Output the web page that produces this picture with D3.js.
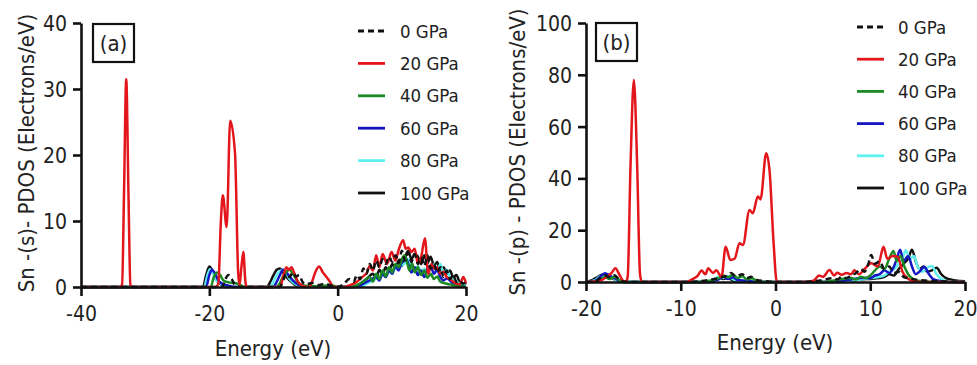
<!DOCTYPE html>
<html>
<head>
<meta charset="utf-8">
<script src="https://cdn.jsdelivr.net/npm/d3@7"></script>
<style>
  body { margin: 0; background: #fff; }
  svg text { font-family: "DejaVu Sans Condensed", "DejaVu Sans", sans-serif; font-stretch: condensed; fill: #222; }
</style>
</head>
<body>
<svg id="chart" width="977" height="365"></svg>
<script>
// legend entries, shared by both panels
const pressures = ["0 GPa", "20 GPa", "40 GPa", "60 GPa", "80 GPa", "100 GPa"];
const colors = ["#111", "#e3161c", "#1b8a22", "#1515c4", "#5ef0ee", "#111"];

// panel (a): Sn s-PDOS, [energy eV, states]
const sA0 = [[-40,0],[-18,0],[-17.5,1.2],[-17,1.8],[-16.5,1.2],[-16,0.3],[-15,0],[-9,0],[-8.5,1],[-8,2],[-7.5,1.5],[-7,2.2],[-6.5,1.6],[-6,1.8],[-5.5,0.8],[-5,0.4],[-4,0.6],[-3,0.3],[-2,0.5],[-1,0.2],[0,0],[1,0.5],[1.8,1.2],[2.5,0.8],[3,1.8],[3.5,1.2],[4,2.8],[4.5,2],[5,3.5],[5.5,2.5],[6,4],[6.5,3],[7,4.2],[7.5,3.5],[8,4.6],[8.5,3.8],[9,4.8],[9.5,3.6],[10,5.5],[10.5,4],[11,5.2],[11.5,3.8],[12,5],[12.5,3.5],[13,4.5],[13.5,3.2],[14,4.8],[14.5,2.8],[15,3.5],[15.5,2.2],[16,3],[16.5,1.5],[17,2.5],[17.5,1.2],[18,1.8],[18.5,0.8],[19,1],[19.5,0.5],[20,0.8]];
const sA20 = [[-40,0],[-34,0],[-33.6,0.3],[-33.3,14],[-32.95,31.5],[-32.6,14],[-32.3,0.3],[-32,0],[-19,0],[-18.6,0.5],[-18.2,10],[-17.9,13.9],[-17.3,9.1],[-16.75,25.2],[-16.0,20.3],[-15.5,2],[-15.3,0.3],[-15.0,3],[-14.7,5.3],[-14.4,1],[-14.2,0],[-9,0],[-8.5,1.5],[-8,3],[-7.6,2.6],[-7.2,3],[-6.8,2.2],[-6.2,0.8],[-5.5,0.2],[-4.5,0],[-4,0.8],[-3.5,2.2],[-2.9,3.1],[-2.3,2.2],[-1.8,1.6],[-1.2,0.8],[-0.7,0],[1,0],[2,0.3],[3,0.8],[3.8,1.5],[4.5,2.1],[5,3.2],[5.5,2.5],[6,4.8],[6.5,3],[7,5],[7.7,3.5],[8.4,5.3],[9,4],[9.5,5.6],[10.2,7.1],[10.6,5.8],[11,6],[11.5,5.3],[12,5.8],[12.5,3.5],[13,4.5],[13.6,7.4],[14.1,2],[14.6,3.5],[15,2.8],[15.5,3],[16,2],[16.5,2.3],[17,1.5],[17.5,1.2],[18,0.8],[18.5,0.5],[19,0.4],[19.6,1.5],[20,0.5]];
const sA40 = [[-40,0],[-19.8,0],[-19.3,1.5],[-18.8,2.2],[-18.3,1.8],[-17.8,1],[-17,0.7],[-16,0.6],[-15.2,0.3],[-14.5,0],[-9.5,0],[-9,0.6],[-8.5,1.6],[-8,2.3],[-7.5,2.6],[-7,2],[-6.5,1.2],[-6,0.5],[-5,0.2],[-3,0.1],[-1,0.3],[0,0],[2,0],[3,0.3],[4,0.8],[5,1.5],[5.5,0.8],[6,2],[6.5,1.2],[7,2.5],[7.5,1.6],[8,3],[8.5,2.2],[9,3.5],[9.5,3],[10,4.2],[10.4,4.8],[10.8,3.8],[11.2,2.5],[11.6,3.6],[12,2.2],[12.5,3],[13,1.8],[13.5,2.5],[14,1.4],[14.5,2],[15,1.2],[15.5,1.6],[16,0.8],[17,0.5],[18,0.3],[19,0.1],[20,0]];
const sA60 = [[-40,0],[-20.5,0],[-20,1.8],[-19.6,2.6],[-19.1,2],[-18.6,1],[-18,0.5],[-17,0.2],[-16,0],[-10,0],[-9.5,0.8],[-9,1.8],[-8.5,2.6],[-8,2.2],[-7.5,1.6],[-7,1],[-6,0.3],[-5,0],[3,0],[4,0.5],[5,1],[6,1.5],[6.5,1],[7,2],[7.5,1.5],[8,2.5],[8.5,2],[9,3.2],[9.5,2.5],[10,3.8],[10.5,4.6],[11,3.5],[11.5,2.2],[12,3],[12.5,1.8],[13,2.5],[13.5,1.5],[14,2.8],[14.5,3.2],[15,2],[15.5,2.6],[16,1.5],[16.5,1],[17,1.3],[18,0.5],[19,0.2],[20,0]];
const sA80 = [[-40,0],[-20.8,0],[-20.3,1.8],[-19.9,2.7],[-19.4,2],[-18.9,1],[-18,0.4],[-17,0],[-10.5,0],[-10,0.8],[-9.5,1.8],[-9,2.4],[-8.5,2.6],[-8,2],[-7.5,1.2],[-6.5,0.4],[-5,0],[3.5,0],[4.5,0.5],[5.5,1],[6.5,1.5],[7.5,2],[8.5,2.4],[9.5,3],[10.5,3.6],[11,4.2],[11.5,3],[12,2.6],[12.5,3.2],[13,2.2],[13.5,2.8],[14,2.2],[14.5,2.8],[15,3.4],[15.5,2.4],[16,3.5],[16.5,2],[17,2.6],[17.5,1.5],[18,1.2],[19,0.5],[20,0.2]];
const sA100 = [[-40,0],[-21,0],[-20.5,1.8],[-20.0,3.1],[-19.5,2.4],[-19,1.2],[-18.3,0.5],[-17.5,0],[-11,0],[-10.5,0.8],[-10,1.8],[-9.5,2.6],[-9,2.8],[-8.5,2.2],[-8,1.5],[-7,0.6],[-6,0],[2.5,0],[3.5,0.5],[4.5,1.2],[5.5,2],[6,1.4],[6.5,2.6],[7,2],[7.5,3],[8,2.4],[8.5,3.5],[9,2.8],[9.5,4],[10,3.2],[10.5,4.5],[11,5.5],[11.5,4.2],[12,5],[12.5,4.6],[13,3.5],[13.5,4.8],[14,3.6],[14.5,4.6],[15,3.2],[15.5,3.8],[16,2.5],[16.5,3],[17,2],[17.5,2.5],[18,1.5],[18.5,1.8],[19,0.8],[19.5,0.5],[20,0.3]];

// panel (b): Sn p-PDOS
const sB0 = [[-20,0],[-19,0.3],[-18.5,1.5],[-18,2.5],[-17.5,1.8],[-17,2.6],[-16.5,1],[-16,0.2],[-15,0],[-9,0],[-8,0.3],[-7,0.8],[-6,1.5],[-5.5,2],[-5,2.6],[-4.7,3.5],[-4.2,2.2],[-3.5,3],[-3,1.5],[-2.6,2],[-2,0.8],[-1,0.3],[0,0],[3,0],[4,0.3],[5,0.8],[6,1.5],[6.5,1],[7,2],[7.5,1.5],[8,2.5],[8.5,3.5],[9,5],[9.4,4],[9.8,7],[10.1,10.4],[10.5,7],[11,8],[11.5,5],[12,6],[12.5,3.5],[13,4],[13.5,2],[14,1.5],[15,0.8],[16,0.5],[17,0.3],[18,0.2],[20,0]];
const sB20 = [[-20,0],[-19,0.2],[-18.3,0.8],[-17.8,2],[-17.3,3.5],[-16.9,5.3],[-16.5,3],[-16.1,0.5],[-15.8,0],[-15.6,2],[-15.3,45],[-14.95,78],[-14.6,45],[-14.3,3],[-14.1,0],[-9.4,0],[-8.8,1],[-8.2,2.5],[-7.8,4.4],[-7.4,3],[-7.1,5.3],[-6.6,3.5],[-6.25,4.5],[-5.7,2],[-5.26,13.6],[-4.77,8.5],[-4.3,9.1],[-3.8,15],[-3.44,14.3],[-2.74,27.8],[-2.4,26.5],[-1.86,33],[-1.58,31.9],[-0.98,49.7],[-0.63,43],[-0.2,15],[0.14,0],[3,0],[4,0.5],[4.6,2.5],[5,2],[5.7,4.6],[6.2,2.5],[6.5,3.6],[7,2.8],[7.5,3.5],[8,3],[8.3,4.5],[8.8,3],[9.4,5],[10.1,7.2],[10.8,6],[11.4,13.6],[11.8,9],[12.35,10],[12.9,9.8],[13.4,4],[13.9,1.5],[14.6,0.3],[15.5,0],[20,0]];
const sB40 = [[-20,0],[-19,0.2],[-18.5,1],[-18,1.8],[-17.5,1.2],[-17,2],[-16.5,0.8],[-16,0],[-8,0],[-7,0.5],[-6,1.5],[-5.5,2.5],[-5,1.8],[-4.5,2.8],[-4,1.5],[-3.5,2.2],[-3,1],[-2.5,1.4],[-2,0.5],[-1,0],[5,0],[6,0.5],[7,1.2],[8,1.5],[8.5,1],[9,2],[9.5,1.5],[10,2.5],[10.5,4.5],[11,6],[11.5,5],[12,9],[12.45,12],[12.8,8],[13.2,10],[13.6,6],[14,3],[14.5,1.2],[15,0.5],[16,0.2],[17,0],[20,0]];
const sB60 = [[-20,0],[-19,0.5],[-18.5,2],[-18,3.4],[-17.5,2.5],[-17,1.5],[-16.5,0.5],[-16,0],[-7,0],[-6,1],[-5.5,2],[-5,1.2],[-4.5,1.8],[-4,0.8],[-3,0.5],[-2,0],[6,0],[7,0.5],[8,1],[9,1.5],[10,1.5],[10.5,2.5],[11,3],[11.5,4.5],[12,3.5],[12.5,6],[12.8,9],[13.16,12.5],[13.5,8],[14,10],[14.4,6],[14.8,3],[15.2,4],[15.7,5.9],[16.2,3],[16.7,1],[17.5,0.3],[18.5,0],[20,0]];
const sB80 = [[-20,0],[-19,0.8],[-18.5,2.2],[-18,2],[-17.5,2.8],[-17,1.2],[-16.5,0.3],[-16,0],[-7,0],[-6.5,1],[-6,2],[-5.5,1.5],[-5,2.2],[-4.5,1],[-3.5,0.3],[-2,0],[7,0],[8,0.5],[9,1],[10,1.5],[11,2],[11.5,2.5],[12,4],[12.5,5],[13,7],[13.4,9],[13.75,12.3],[14.2,9],[14.6,10],[15,6],[15.5,4],[16,5.5],[16.5,6.2],[17,3],[17.5,1.2],[18,0.4],[19,0],[20,0]];
const sB100 = [[-20,0],[-19.5,0.5],[-19,1.5],[-18.5,2.5],[-18,3],[-17.5,2],[-17,1],[-16.5,0.3],[-16,0],[-7,0],[-6.5,0.8],[-6,1.8],[-5.5,1.2],[-5,1.5],[-4.5,0.6],[-3.5,0.2],[-2,0],[7,0],[8,0.5],[9,1],[10,1.2],[11,1.5],[11.5,2],[12,3],[12.5,2.5],[13,5],[13.5,7],[14,9],[14.4,12.5],[14.8,8],[15.2,5],[15.6,6],[16,4],[16.5,4.5],[17,5.5],[17.5,3],[18,1.5],[18.5,1],[19,0.6],[20,0.3]];

const ticksA_x = [-40, -20, 0, 20], ticksA_y = [0, 10, 20, 30, 40];
const ticksB_x = [-20, -10, 0, 10, 20], ticksB_y = [0, 20, 40, 60, 80, 100];

const svg = d3.select("#chart");
// plain hyphen for negatives, like the original figure
const fmt = d => String(d);

function drawPanel(p) {
  const x = d3.scaleLinear().domain(p.xDomain).range(p.xRange);
  const y = d3.scaleLinear().domain(p.yDomain).range(p.yRange);
  const g = svg.append("g");

  // curves: solid ones first, red above them, dashed 0 GPa on top
  const line = d3.line().x(d => x(d[0])).y(d => y(d[1])).curve(d3.curveMonotoneX);
  const order = [5, 4, 3, 2, 1, 0];
  order.forEach(i => {
    g.append("path")
      .datum(p.series[i])
      .attr("d", line)
      .attr("fill", "none")
      .attr("stroke", colors[i])
      .attr("stroke-width", 2.5)
      .attr("stroke-linejoin", "round")
      .attr("stroke-dasharray", i === 0 ? "6,4" : null);
  });

  // axes
  const xAxis = g.append("g")
    .attr("transform", `translate(0,${p.yRange[0]})`)
    .call(d3.axisBottom(x).tickValues(p.xTicks).tickFormat(fmt).tickSize(9).tickSizeOuter(0).tickPadding(6));
  const yAxis = g.append("g")
    .attr("transform", `translate(${p.xRange[0]},0)`)
    .call(d3.axisLeft(y).tickValues(p.yTicks).tickFormat(fmt).tickSize(8).tickSizeOuter(0).tickPadding(6));
  [xAxis, yAxis].forEach(a => {
    a.selectAll("path, line").attr("stroke", "#111").attr("stroke-width", 2.6);
    a.selectAll("text").attr("font-size", 21).attr("fill", "#222")
      .attr("font-family", '"DejaVu Sans Condensed", "DejaVu Sans", sans-serif');
  });
  xAxis.selectAll("text").attr("dy", "0.9em");
  yAxis.selectAll("text").attr("dy", "0.36em");

  // axis titles
  g.append("text")
    .attr("x", p.xTitle[0]).attr("y", p.xTitle[1])
    .attr("text-anchor", "middle").attr("font-size", 22)
    .text("Energy (eV)");
  g.append("text")
    .attr("transform", `translate(${p.yTitle[0]},${p.yTitle[1]}) rotate(-90)`)
    .attr("text-anchor", "middle").attr("font-size", 22)
    .text(p.yLabel);

  // panel tag
  g.append("rect")
    .attr("x", p.tag[0]).attr("y", p.tag[1]).attr("width", 41).attr("height", 38)
    .attr("fill", "none").attr("stroke", "#111").attr("stroke-width", 2.2);
  g.append("text")
    .attr("x", p.tag[0] + 20.5).attr("y", p.tag[1] + 27)
    .attr("text-anchor", "middle").attr("font-size", 22)
    .text(p.tagText);

  // legend
  const lg = g.append("g").attr("transform", `translate(${p.legend[0]},${p.legend[1]})`);
  pressures.forEach((name, i) => {
    const row = lg.append("g").attr("transform", `translate(0,${i * p.legendStep})`);
    row.append("line")
      .attr("x1", 0).attr("x2", 27).attr("y1", 0).attr("y2", 0)
      .attr("stroke", colors[i]).attr("stroke-width", 2.8)
      .attr("stroke-dasharray", i === 0 ? "6,4" : null);
    row.append("text")
      .attr("x", p.legendText).attr("y", 0).attr("dy", "0.36em")
      .attr("font-size", 18.5)
      .text(name);
  });
}

drawPanel({
  xDomain: [-40, 20], xRange: [81, 466],
  yDomain: [0, 40], yRange: [287, 23],
  xTicks: ticksA_x, yTicks: ticksA_y,
  series: [sA0, sA20, sA40, sA60, sA80, sA100],
  yLabel: "Sn -(s)- PDOS (Electrons/eV)",
  xTitle: [273, 356], yTitle: [34, 153],
  tag: [93, 24], tagText: "(a)",
  legend: [358, 31], legendStep: 32.4, legendText: 42
});

drawPanel({
  xDomain: [-20, 20], xRange: [586, 965],
  yDomain: [0, 100], yRange: [282, 23],
  xTicks: ticksB_x, yTicks: ticksB_y,
  series: [sB0, sB20, sB40, sB60, sB80, sB100],
  yLabel: "Sn -(p) - PDOS (Electrons/eV)",
  xTitle: [775, 350], yTitle: [525, 152],
  tag: [596, 23], tagText: "(b)",
  legend: [857, 27], legendStep: 32.2, legendText: 41
});
</script>
</body>
</html>
